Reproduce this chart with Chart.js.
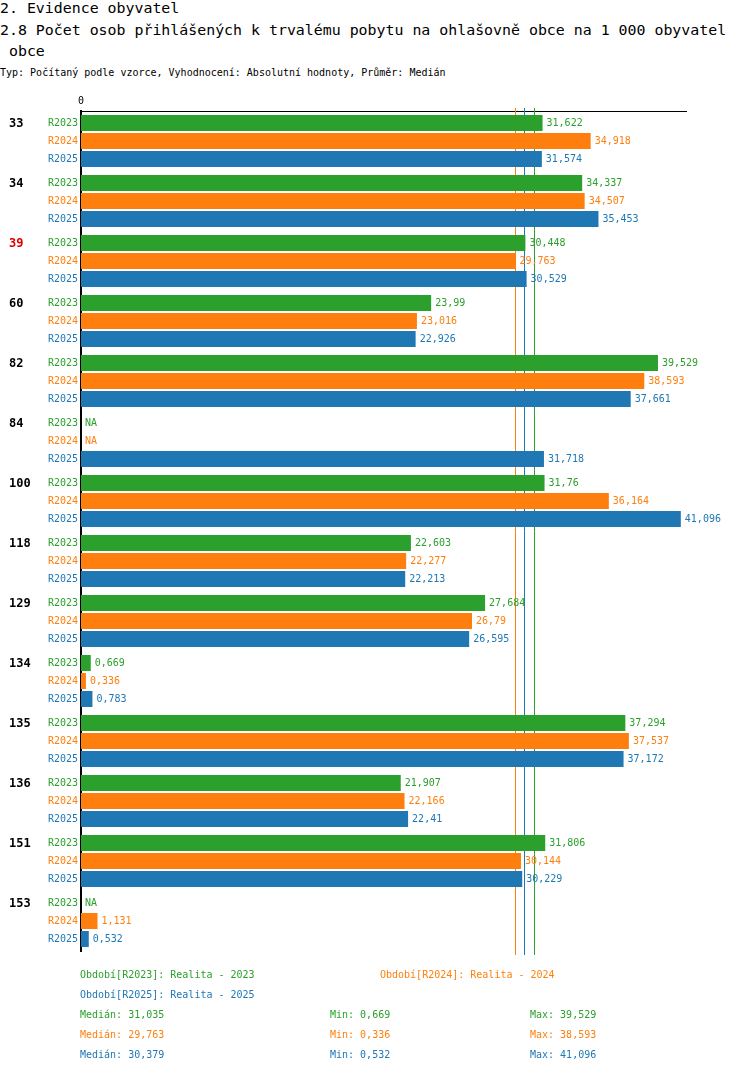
<!DOCTYPE html>
<html>
<head>
<meta charset="utf-8">
<script src="https://cdn.jsdelivr.net/npm/chart.js@4/dist/chart.umd.min.js"></script>
<style>
  body { margin: 0; width: 750px; height: 1074px; overflow: hidden; background: #fff; position: relative;
         font-family: "DejaVu Sans Mono", monospace; }
  .t { position: absolute; left: 0; white-space: pre; }
  .h { font-size: 14.9px; line-height: 21px; color: #000; }
  .s { font-size: 10px; line-height: 14px; color: #000; }
  .f { font-size: 10px; line-height: 20px; }
  canvas { position: absolute; left: 0; top: 0; }
</style>
</head>
<body>
<div class="t h" style="top:-2px">2. Evidence obyvatel</div>
<div class="t h" style="top:20px">2.8 Počet osob přihlášených k trvalému pobytu na ohlašovně obce na 1 000 obyvatel</div>
<div class="t h" style="top:41px"> obce</div>
<div class="t s" style="top:66px">Typ: Počítaný podle vzorce, Vyhodnocení: Absolutní hodnoty, Průměr: Medián</div>

<canvas id="canvas1" width="750" height="1074"></canvas>

<div class="t f" style="top:965px;left:80px;color:#2ca02c">Období[R2023]: Realita - 2023</div>
<div class="t f" style="top:965px;left:380px;color:#ff7f0e">Období[R2024]: Realita - 2024</div>
<div class="t f" style="top:985px;left:80px;color:#1f77b4">Období[R2025]: Realita - 2025</div>
<div class="t f" style="top:1005px;left:80px;color:#2ca02c">Medián: 31,035</div>
<div class="t f" style="top:1005px;left:330px;color:#2ca02c">Min: 0,669</div>
<div class="t f" style="top:1005px;left:530px;color:#2ca02c">Max: 39,529</div>
<div class="t f" style="top:1025px;left:80px;color:#ff7f0e">Medián: 29,763</div>
<div class="t f" style="top:1025px;left:330px;color:#ff7f0e">Min: 0,336</div>
<div class="t f" style="top:1025px;left:530px;color:#ff7f0e">Max: 38,593</div>
<div class="t f" style="top:1045px;left:80px;color:#1f77b4">Medián: 30,379</div>
<div class="t f" style="top:1045px;left:330px;color:#1f77b4">Min: 0,532</div>
<div class="t f" style="top:1045px;left:530px;color:#1f77b4">Max: 41,096</div>

<script>
// obce (municipality codes) shown on the left
let groups = ['33', '34', '39', '60', '82', '84', '100', '118', '129', '134', '135', '136', '151', '153'];
let groupColors = ['#000', '#000', '#e00000', '#000', '#000', '#000', '#000', '#000', '#000', '#000', '#000', '#000', '#000', '#000'];

// series names and colors
let seriesNames = ['R2023', 'R2024', 'R2025'];
let colors = ['#2ca02c', '#ff7f0e', '#1f77b4'];

// values per year (null = NA)
let r2023 = [31.622, 34.337, 30.448, 23.99, 39.529, null, 31.76, 22.603, 27.684, 0.669, 37.294, 21.907, 31.806, null];
let r2024 = [34.918, 34.507, 29.763, 23.016, 38.593, null, 36.164, 22.277, 26.79, 0.336, 37.537, 22.166, 30.144, 1.131];
let r2025 = [31.574, 35.453, 30.529, 22.926, 37.661, 31.718, 41.096, 22.213, 26.595, 0.783, 37.172, 22.41, 30.229, 0.532];

// medians drawn as vertical lines
let medians = [31.035, 29.763, 30.379];

const font = 'DejaVu Sans Mono';

// draws median lines, value labels, series and group labels
const labelPlugin = {
  id: 'labelPlugin',
  beforeDatasetsDraw(chart) {
    const ctx = chart.ctx;
    const x = chart.scales.x;
    const a = chart.chartArea;
    ctx.save();
    ctx.lineWidth = 1;
    for (let i = 0; i < medians.length; i++) {
      const px = Math.round(x.getPixelForValue(medians[i])) + 0.5;
      ctx.strokeStyle = colors[i];
      ctx.beginPath();
      ctx.moveTo(px, a.top - 3);
      ctx.lineTo(px, a.bottom + 4);
      ctx.stroke();
    }
    ctx.restore();
  },
  afterDatasetsDraw(chart) {
    const ctx = chart.ctx;
    const x = chart.scales.x;
    const a = chart.chartArea;
    ctx.save();
    ctx.textBaseline = 'middle';
    chart.data.datasets.forEach(function(ds, i) {
      const meta = chart.getDatasetMeta(i);
      meta.data.forEach(function(bar, j) {
        const v = ds.data[j];
        const y = Math.round(bar.y) + 0.5;
        ctx.fillStyle = colors[i];
        ctx.font = '10px "' + font + '"';
        ctx.textAlign = 'left';
        let txt = v === null ? 'NA' : String(v).replace('.', ',');
        let xx = v === null ? x.getPixelForValue(0) : bar.x;
        ctx.fillText(txt, xx + 4, y);
        // series name
        ctx.textAlign = 'right';
        ctx.fillText(seriesNames[i], a.left - 3, y);
        // group name next to the first bar
        if (i === 0) {
          ctx.textAlign = 'left';
          ctx.fillStyle = groupColors[j];
          ctx.font = 'bold 12px "' + font + '"';
          ctx.fillText(groups[j], 9, y);
        }
      });
    });
    ctx.restore();
  }
};

let datasets = [r2023, r2024, r2025].map(function(d, i) {
  return {
    label: seriesNames[i],
    data: d,
    backgroundColor: colors[i],
    borderWidth: 0,
    categoryPercentage: 0.9,
    barPercentage: 16 / 18
  };
});

let options = {
  type: 'bar',
  data: { labels: groups, datasets: datasets },
  options: {
    indexAxis: 'y',
    responsive: false,
    animation: false,
    layout: { padding: { left: 81, right: 64, top: 93, bottom: 123 } },
    plugins: { legend: { display: false }, tooltip: { enabled: false } },
    scales: {
      x: {
        position: 'top',
        min: 0,
        max: 41.45,
        grid: { display: false, drawTicks: false },
        border: { display: true, color: '#000', width: 1 },
        ticks: {
          color: '#000',
          padding: 4,
          font: { family: font, size: 10 },
          callback: function(v) { return v === 0 ? '0' : ''; }
        },
        afterFit: function(s) { s.height = 18; }
      },
      y: {
        grid: { display: false, drawTicks: false },
        border: { display: true, color: '#000', width: 2 },
        ticks: { display: false },
        afterFit: function(s) { s.width = 0; }
      }
    }
  },
  plugins: [labelPlugin]
};

let chart = new Chart(document.getElementById('canvas1'), options);
</script>
</body>
</html>
